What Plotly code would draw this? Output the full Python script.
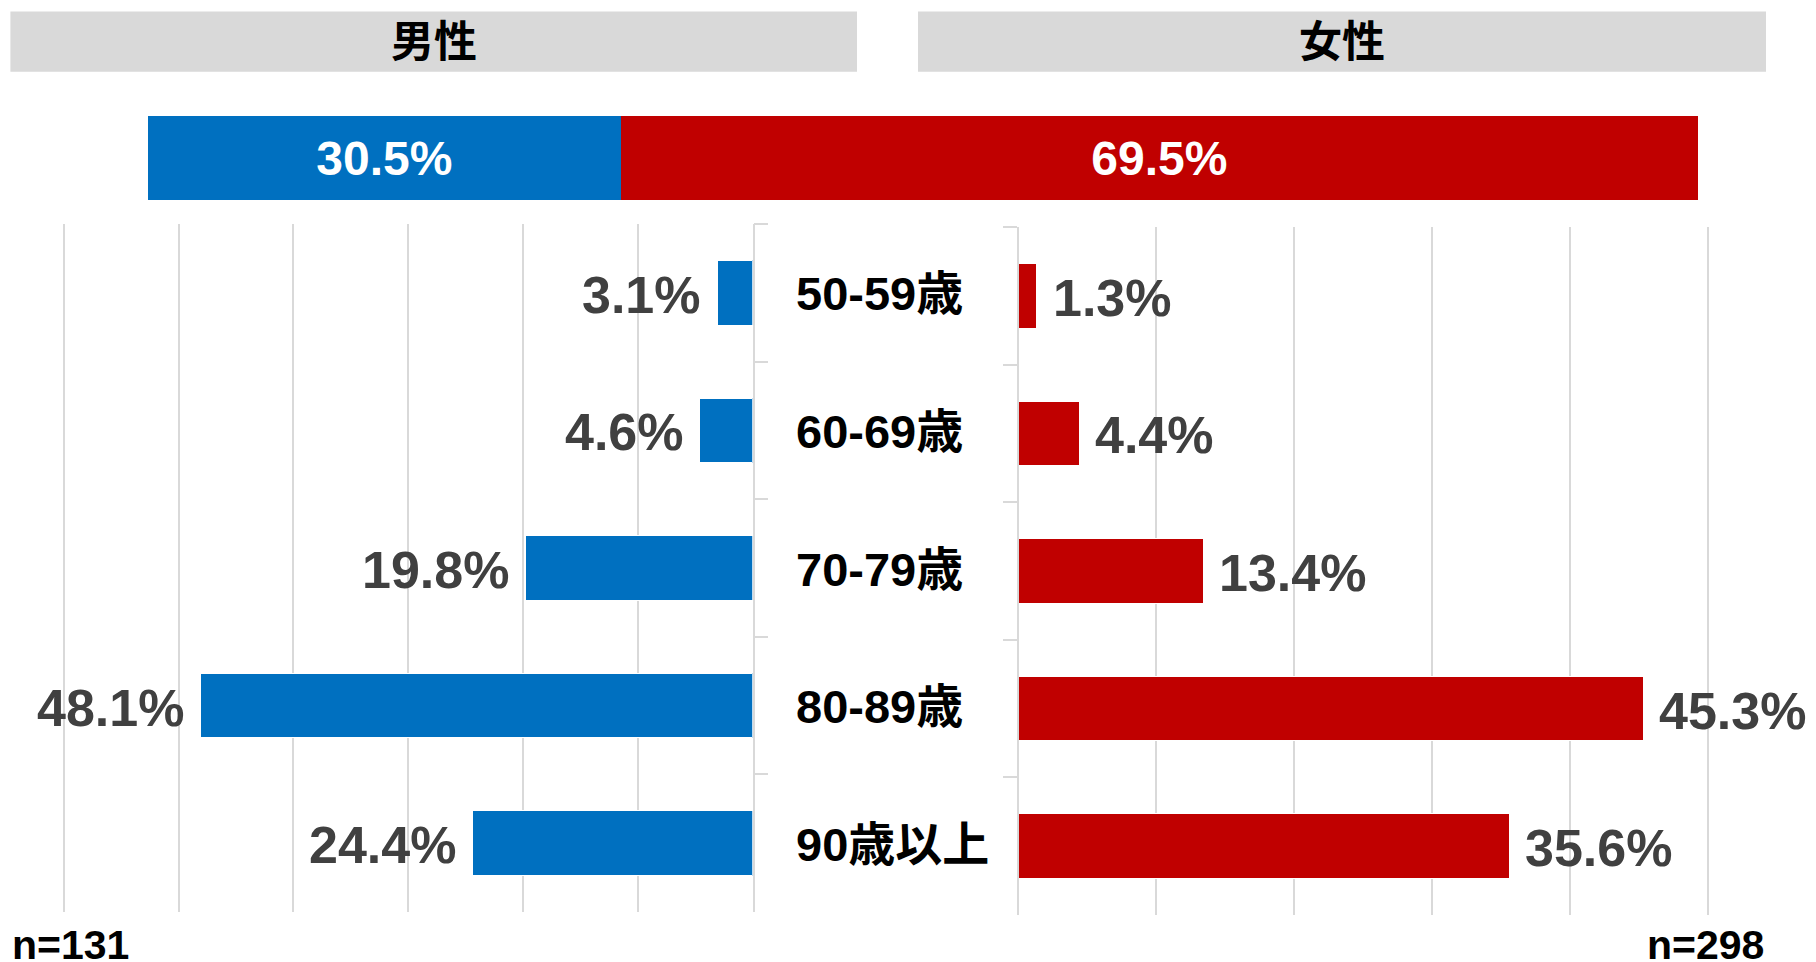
import plotly.graph_objects as go

# page body has an 8px margin: figure placed at (8, 8) on screen
OFF = 8
W, H = 1808, 954

categories = ["50-59歳", "60-69歳", "70-79歳", "80-89歳", "90歳以上"]
male_pct = [3.1, 4.6, 19.8, 48.1, 24.4]
female_pct = [1.3, 4.4, 13.4, 45.3, 35.6]
gender_labels = ["男性", "女性"]
gender_share = [30.5, 69.5]
n_labels = ["n=131", "n=298"]

BLUE = "#0070C0"
RED = "#C00000"
GRID = "#D9D9D9"
VAL = "#404040"
FONT = "Liberation Sans, Arial, Noto Sans CJK JP, sans-serif"

L_PX_PER = 11.48   # px per percent, left panel
R_PX_PER = 13.78   # px per percent, right panel
PAD = 0.3          # axis extension so edge gridline renders


def px(x):
    return (x - OFF) / W


def py(y):
    return (H - (y - OFF)) / H


fig = go.Figure()

fig.add_trace(go.Bar(
    x=male_pct, y=categories, orientation="h", xaxis="x", yaxis="y",
    marker=dict(color=BLUE, line=dict(color="white", width=1)), width=0.47,
    showlegend=False, hoverinfo="skip"))
fig.add_trace(go.Bar(
    x=female_pct, y=categories, orientation="h", xaxis="x2", yaxis="y2",
    marker=dict(color=RED, line=dict(color="white", width=1)), width=0.47,
    showlegend=False, hoverinfo="skip"))
for lab, val, col in zip(gender_labels, gender_share, [BLUE, RED]):
    fig.add_trace(go.Bar(
        x=[val], y=["share"], orientation="h", xaxis="x3", yaxis="y3",
        marker=dict(color=col, line=dict(width=0)), width=1,
        text=[f"{val:.1f}%"], textposition="inside", insidetextanchor="middle",
        textangle=0, textfont=dict(color="white", size=48, family=FONT, weight="bold"),
        showlegend=False, hoverinfo="skip", name=lab))

cat_axis_common = dict(
    type="category", categoryorder="array", categoryarray=categories,
    autorange="reversed", showgrid=False, zeroline=False,
    showline=True, linecolor=GRID, linewidth=1.5,
    ticks="outside", ticklen=14, tickcolor=GRID, tickwidth=1.5,
    tickson="boundaries", showticklabels=False,
)

fig.update_layout(
    width=W, height=H,
    margin=dict(l=0, r=0, t=0, b=0),
    paper_bgcolor="white", plot_bgcolor="rgba(0,0,0,0)",
    barmode="stack",
    font=dict(family=FONT),
    xaxis=dict(domain=[px(63.8 - PAD * L_PX_PER), px(752.6)], range=[60 + PAD, 0],
               tick0=0, dtick=10,
               showgrid=True, gridcolor=GRID, gridwidth=1.5, zeroline=False,
               showticklabels=False, anchor="y", fixedrange=True),
    yaxis=dict(domain=[py(912), py(224)], side="right", anchor="x", **cat_axis_common),
    xaxis2=dict(domain=[px(1018.6), px(1707.8 + PAD * R_PX_PER)], range=[0, 50 + PAD],
                tick0=0, dtick=10,
                showgrid=True, gridcolor=GRID, gridwidth=1.5, zeroline=False,
                showticklabels=False, anchor="y2", fixedrange=True),
    yaxis2=dict(domain=[py(915), py(227)], side="left", anchor="x2", **cat_axis_common),
    xaxis3=dict(domain=[px(148), px(1698)], range=[0, 100], showgrid=False,
                zeroline=False, showticklabels=False, anchor="y3"),
    yaxis3=dict(domain=[py(200), py(116)], showgrid=False, zeroline=False,
                showticklabels=False, anchor="x3", type="category"),
)

shapes = []
annotations = []
for lab, (x0, x1) in zip(gender_labels, [(10.4, 857), (918, 1766)]):
    shapes.append(dict(type="rect", xref="paper", yref="paper",
                       x0=px(x0), x1=px(x1), y0=py(71.7), y1=py(11.6),
                       fillcolor="#D9D9D9", line=dict(width=0), layer="below"))
    annotations.append(dict(xref="paper", yref="paper", x=px((x0 + x1) / 2), y=py(42),
                            text=f"<b>{lab}</b>", showarrow=False,
                            font=dict(size=43, color="black", family=FONT),
                            xanchor="center", yanchor="middle"))

for c in categories:
    annotations.append(dict(xref="paper", yref="y", x=px(794), y=c, text=f"<b>{c}</b>",
                            showarrow=False, xanchor="left", yanchor="middle", yshift=-1,
                            font=dict(size=47, color="black", family=FONT)))

for c, v in zip(categories, male_pct):
    annotations.append(dict(xref="x", yref="y", x=v, y=c, text=f"<b>{v:.1f}%</b>",
                            showarrow=False, xanchor="right", yanchor="middle",
                            xshift=-14, yshift=-2,
                            font=dict(size=52, color=VAL, family=FONT)))
for c, v in zip(categories, female_pct):
    annotations.append(dict(xref="x2", yref="y2", x=v, y=c, text=f"<b>{v:.1f}%</b>",
                            showarrow=False, xanchor="left", yanchor="middle",
                            xshift=14, yshift=-2,
                            font=dict(size=52, color=VAL, family=FONT)))

annotations.append(dict(xref="paper", yref="paper", x=px(10), y=py(945), text=f"<b>{n_labels[0]}</b>",
                        showarrow=False, xanchor="left", yanchor="middle",
                        font=dict(size=41, color="black", family=FONT)))
annotations.append(dict(xref="paper", yref="paper", x=px(1766), y=py(945), text=f"<b>{n_labels[1]}</b>",
                        showarrow=False, xanchor="right", yanchor="middle",
                        font=dict(size=41, color="black", family=FONT)))

fig.update_layout(shapes=shapes, annotations=annotations)

fig.write_html("out.html")
